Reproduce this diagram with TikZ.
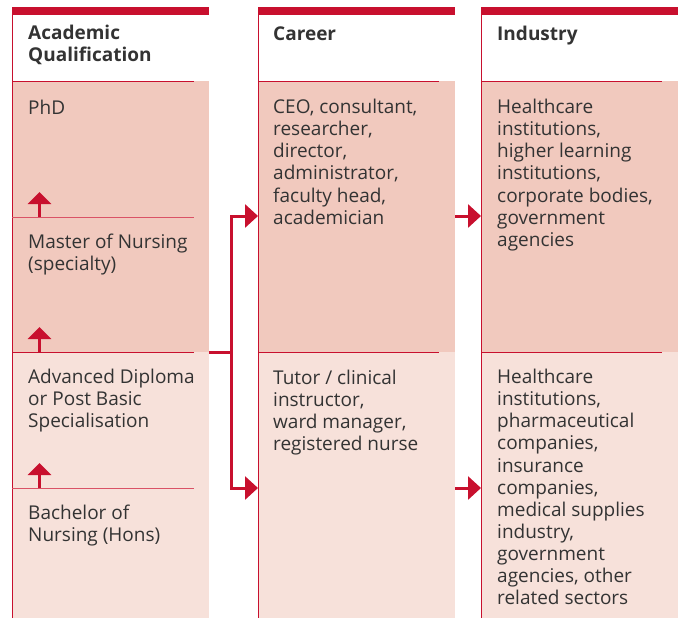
\documentclass[tikz,border=0pt]{standalone}
\usepackage{fontspec}
\setmainfont{Open Sans}
\usetikzlibrary{positioning,arrows.meta}
\definecolor{uniRed}{RGB}{200,16,46}
\definecolor{rowDark}{RGB}{241,201,190}
\definecolor{rowLight}{RGB}{247,225,218}
\definecolor{ruleRed}{RGB}{218,82,102}
\definecolor{txtGrey}{RGB}{51,51,51}
\tikzset{
  celltext/.style={anchor=north west, yshift=14pt, inner sep=0pt, align=left,
    text=txtGrey, execute at begin node=\strut,
    font=\fontsize{19}{22.1}\selectfont},
  headtext/.style={celltext, font=\fontsize{19}{22}\selectfont\bfseries},
  colrule/.style={draw=uniRed, line width=1pt},
  steprule/.style={draw=ruleRed, line width=1pt},
  flowline/.style={draw=uniRed, line width=3pt, line join=miter},
  flowarrow/.style={flowline, -{Triangle[width=23pt,length=13pt]}},
  uparrow/.style={flowline, -{Triangle[width=23pt,length=12pt]}},
}

\begin{document}
\begin{tikzpicture}[x=1pt, y=-1pt]
	\useasboundingbox (0,0) rectangle (679,618);
	% row fills
	\fill[rowDark]  (12,81)  rectangle (209,352);
	\fill[rowLight] (12,352) rectangle (209,618);
	\fill[rowDark]  (258,81)  rectangle (455,352);
	\fill[rowLight] (258,352) rectangle (455,618);
	\fill[rowDark]  (481,81)  rectangle (678,352);
	\fill[rowLight] (481,352) rectangle (678,618);
	%
	% column borders and top bars
	\draw[colrule] (12,8) -- (12,618);
	\draw[colrule] (258,8) -- (258,618);
	\draw[colrule] (481,8) -- (481,618);
	\fill[uniRed] (12,7.5) rectangle (209,15);
	\fill[uniRed] (258,7.5) rectangle (455,15);
	\fill[uniRed] (481,7.5) rectangle (678,15);
	%
	% rules
	\draw[colrule]  (12,81) -- (194,81);
	\draw[colrule]  (258,81) -- (439,81);
	\draw[colrule]  (481,81) -- (662,81);
	\draw[steprule] (12,217) -- (194,217);
	\draw[colrule]  (12,352) -- (194,352);
	\draw[colrule]  (258,352) -- (439,352);
	\draw[colrule]  (481,352) -- (662,352);
	\draw[steprule] (12,488) -- (194,488);
	%
	% headers
	\node[headtext] (acadHead)     at (28,39)  {Academic\\Qualification};
	\node[headtext] (careerHead)   at (273,39) {Career};
	\node[headtext] (industryHead) at (497,39) {Industry};
	%
	% qualifications
	\node[celltext] (phd)      at (28,113) {PhD};
	\node[celltext] (master)   at (28,248) {Master of Nursing\\(specialty)};
	\node[celltext] (advDip)   at (28,383) {Advanced Diploma\\or Post Basic\\Specialisation};
	\node[celltext] (bachelor) at (28,519) {Bachelor of\\Nursing (Hons)};
	%
	% careers and industries
	\node[celltext] (careerTop)   at (273,113) {CEO, consultant,\\researcher,\\director,\\administrator,\\faculty head,\\academician};
	\node[celltext] (careerBot)   at (273,384) {Tutor / clinical\\instructor,\\ward manager,\\registered nurse};
	\node[celltext] (industryTop) at (497,113) {Healthcare\\institutions,\\higher learning\\institutions,\\corporate bodies,\\government\\agencies};
	\node[celltext] (industryBot) at (497,383) {Healthcare\\institutions,\\pharmaceutical\\companies,\\insurance\\companies,\\medical supplies\\industry,\\government\\agencies, other\\related sectors};
	%
	% connector points
	\coordinate (upA)  at (39.5,217);
	\coordinate (upAt) at (39.5,192);
	\coordinate (upB)  at (39.5,352);
	\coordinate (upBt) at (39.5,327);
	\coordinate (upC)  at (39.5,488);
	\coordinate (upCt) at (39.5,463);
	\coordinate (qualOut)  at (209,352);
	\coordinate (branch)   at (231,352);
	\coordinate (careerIn) at (258,216);
	\coordinate (careerIn2) at (258,488);
	\coordinate (careerOut)  at (455,216);
	\coordinate (careerOut2) at (455,488);
	\coordinate (industryIn)  at (481,216);
	\coordinate (industryIn2) at (481,488);
	%
	\draw[uparrow]   (upA) -- (upAt);
	\draw[uparrow]   (upB) -- (upBt);
	\draw[uparrow]   (upC) -- (upCt);
	\draw[flowline]  (qualOut) -- (branch);
	\draw[flowarrow] (branch) |- (careerIn);
	\draw[flowarrow] (branch) |- (careerIn2);
	\draw[flowarrow] (careerOut)  -- (industryIn);
	\draw[flowarrow] (careerOut2) -- (industryIn2);
\end{tikzpicture}
\end{document}
